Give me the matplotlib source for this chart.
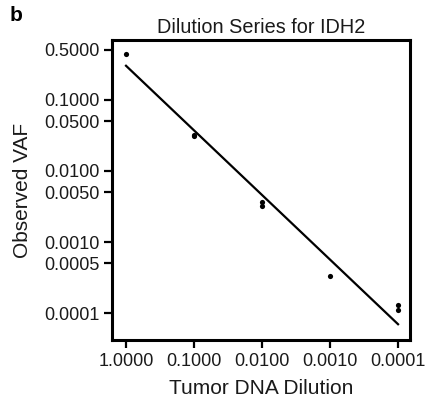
import numpy as np
import matplotlib.pyplot as plt
from matplotlib.ticker import FixedLocator, FixedFormatter, NullLocator

plt.rcParams['font.family'] = ['Liberation Sans', 'DejaVu Sans']

dilution = [1.0, 0.1, 0.1, 0.01, 0.01, 0.001, 0.0001, 0.0001]
vaf = [0.44, 0.031, 0.032, 0.0036, 0.0032, 0.00033, 0.00013, 0.00011]

# fitted line in log10 space: log10(vaf) = fit_intercept + fit_slope * log10(dilution)
fit_slope = 0.908
fit_intercept = -0.523

xticks = [1.0, 0.1, 0.01, 0.001, 0.0001]
yticks = [0.5, 0.1, 0.05, 0.01, 0.005, 0.001, 0.0005, 0.0001]

fig = plt.figure(figsize=(4.28, 4.07), dpi=100)
ax = fig.add_axes([0.2617, 0.1646, 0.6963, 0.7371])

ax.scatter(dilution, vaf, s=14, color='black', zorder=3, linewidths=0)

xfit = np.array([dilution[0], dilution[-1]])
yfit = 10 ** (fit_intercept + fit_slope * np.log10(xfit))
ax.plot(xfit, yfit, color='black', lw=1.6)

ax.set_xscale('log')
ax.set_yscale('log')
ax.set_xlim(10 ** 0.206, 10 ** -4.176)
ax.set_ylim(4.2e-5, 0.69)

ax.xaxis.set_major_locator(FixedLocator(xticks))
ax.xaxis.set_major_formatter(FixedFormatter([f'{t:.4f}' for t in xticks]))
ax.xaxis.set_minor_locator(NullLocator())
ax.yaxis.set_major_locator(FixedLocator(yticks))
ax.yaxis.set_major_formatter(FixedFormatter([f'{t:.4f}' for t in yticks]))
ax.yaxis.set_minor_locator(NullLocator())

ax.tick_params(direction='out', length=6, width=1.6, labelsize=13, pad=3,
               color='black', labelcolor='#1a1a1a')
for s in ax.spines.values():
    s.set_linewidth(2.2)

ax.set_title('Dilution Series for IDH2', fontsize=14.3, pad=5, color='#1a1a1a')
ax.set_xlabel('Tumor DNA Dilution', fontsize=15, labelpad=7, color='#1a1a1a')
ax.set_ylabel('Observed VAF', fontsize=15, labelpad=9, color='#1a1a1a')

fig.text(0.023, 0.985, 'b', fontsize=15, fontweight='bold', va='top', ha='left')

fig.savefig('out.png', dpi=100)
